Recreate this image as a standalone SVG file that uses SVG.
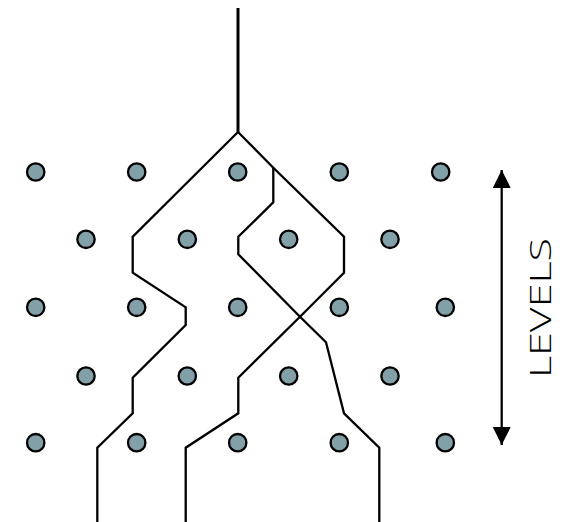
<svg xmlns="http://www.w3.org/2000/svg" width="566" height="522" viewBox="0 0 566 522">
<style>
.dot{fill:#82A0A8;stroke:#000;stroke-width:2.3}
.path{fill:none;stroke:#000;stroke-width:2.3;stroke-linejoin:miter}
.lbl{font-family:"Open Sans","DejaVu Sans",sans-serif;font-weight:300;font-size:29px;fill:#000}
</style>
<defs>
<marker id="ah" viewBox="0 0 10 10" refX="10" refY="5" markerWidth="8" markerHeight="8" markerUnits="strokeWidth" orient="auto-start-reverse">
<path d="M0,0 L10,5 L0,10 Z" fill="#000"/>
</marker>
</defs>
<rect width="566" height="522" fill="#fff"/>
<g id="connectors">
<line class="path" x1="238" y1="8" x2="238" y2="132" style="stroke-width:3"/>
<polyline class="path" points="238,132 132.7,236.7 132.7,272.7 185.7,307.3 185.7,325 132.7,377.7 132.7,413.3 97.3,447.7 97.3,522"/>
<polyline class="path" points="238,132 273.3,167.7 344,236.7 344,272.7 300,316.7 238.3,377.7 238.3,413.3 185.7,447.7 185.7,522"/>
<polyline class="path" points="273.3,167.7 273.3,202.3 238.3,236.7 238.3,254.3 300,316.7 326,342.3 344,413.3 379.3,447.7 379.3,522"/>
<line class="path" x1="501.7" y1="170" x2="501.7" y2="445" marker-start="url(#ah)" marker-end="url(#ah)"/>
</g>
<g id="row1">
<circle class="dot" cx="35.7" cy="172" r="8.7"/>
<circle class="dot" cx="136.7" cy="172" r="8.7"/>
<circle class="dot" cx="237.7" cy="172" r="8.7"/>
<circle class="dot" cx="339.3" cy="172" r="8.7"/>
<circle class="dot" cx="440.7" cy="172" r="8.7"/>
</g>
<g id="row2">
<circle class="dot" cx="86" cy="239.3" r="8.7"/>
<circle class="dot" cx="187.3" cy="239.3" r="8.7"/>
<circle class="dot" cx="288.7" cy="239.3" r="8.7"/>
<circle class="dot" cx="390" cy="239.3" r="8.7"/>
</g>
<g id="row3">
<circle class="dot" cx="35.7" cy="307.3" r="8.7"/>
<circle class="dot" cx="136.7" cy="307.3" r="8.7"/>
<circle class="dot" cx="237.7" cy="307.3" r="8.7"/>
<circle class="dot" cx="339.3" cy="307.3" r="8.7"/>
<circle class="dot" cx="445.3" cy="307.3" r="8.7"/>
</g>
<g id="row4">
<circle class="dot" cx="86" cy="376" r="8.7"/>
<circle class="dot" cx="187.3" cy="376" r="8.7"/>
<circle class="dot" cx="288.7" cy="376" r="8.7"/>
<circle class="dot" cx="390" cy="376" r="8.7"/>
</g>
<g id="row5">
<circle class="dot" cx="35.7" cy="442.7" r="8.7"/>
<circle class="dot" cx="136.7" cy="442.7" r="8.7"/>
<circle class="dot" cx="237.7" cy="442.7" r="8.7"/>
<circle class="dot" cx="339.3" cy="442.7" r="8.7"/>
<circle class="dot" cx="445.3" cy="442.7" r="8.7"/>
</g>
<g id="label">
<text class="lbl" transform="translate(551,308) rotate(-90)" text-anchor="middle" textLength="140" lengthAdjust="spacingAndGlyphs">LEVELS</text>
</g>
</svg>
